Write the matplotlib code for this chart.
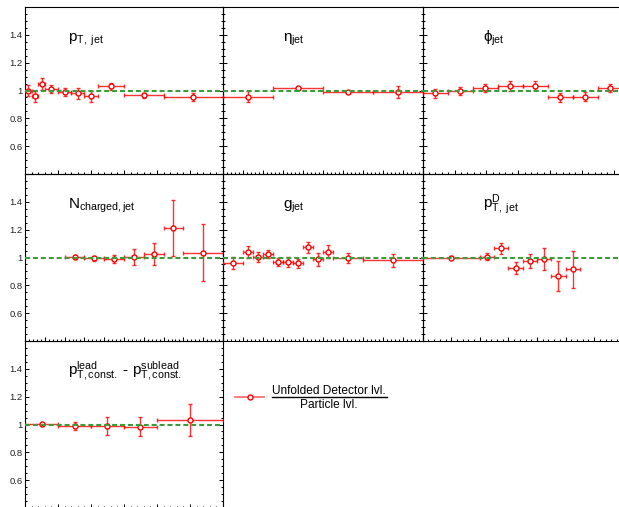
import numpy as np
import matplotlib
matplotlib.use('Agg')
import matplotlib.pyplot as plt
from matplotlib.ticker import FixedLocator, MultipleLocator, NullFormatter
from matplotlib.lines import Line2D

plt.rcParams['font.family'] = ['Liberation Sans', 'DejaVu Sans']
plt.rcParams['mathtext.fontset'] = 'custom'
plt.rcParams['mathtext.rm'] = 'Liberation Sans'
plt.rcParams['mathtext.it'] = 'Liberation Sans'
plt.rcParams['mathtext.bf'] = 'Liberation Sans:bold'
plt.rcParams['mathtext.fallback'] = 'stixsans'

# unfolded detector level / particle level, per observable
pt_edges = [0, 5, 10, 15, 25, 35, 45, 55, 75, 105, 150]
pt_ratio = [1.00, 0.96, 1.05, 1.01, 0.99, 0.98, 0.96, 1.03, 0.965, 0.955]
pt_err = [0.036, 0.04, 0.043, 0.03, 0.03, 0.04, 0.04, 0.025, 0.02, 0.03]

eta_edges = [-0.5, -0.25, 0.0, 0.25, 0.5]
eta_ratio = [0.955, 1.015, 0.99, 0.99]
eta_err = [0.04, 0.01, 0.008, 0.043]

phi_edges = [0, 0.785, 1.571, 2.356, 3.142, 3.927, 4.712, 5.498, 6.283]
phi_ratio = [0.98, 0.996, 1.02, 1.035, 1.035, 0.95, 0.955, 1.02]
phi_err = [0.034, 0.03, 0.03, 0.035, 0.03, 0.03, 0.034, 0.03]

nch_edges = [6, 9, 12, 15, 18, 21, 24, 30]
nch_ratio = [1.003, 0.993, 0.988, 1.003, 1.024, 1.21, 1.034]
nch_err = [0.015, 0.02, 0.03, 0.057, 0.08, 0.2, 0.206]

g_edges = [0, 0.02, 0.03, 0.04, 0.05, 0.06, 0.07, 0.08, 0.09, 0.10, 0.11, 0.14, 0.20]
g_ratio = [0.96, 1.038, 1.002, 1.024, 0.966, 0.971, 0.957, 1.074, 0.986, 1.041, 0.998, 0.98]
g_err = [0.045, 0.043, 0.036, 0.03, 0.03, 0.036, 0.034, 0.04, 0.045, 0.048, 0.036, 0.048]

ptd_edges = [0, 0.2, 0.25, 0.3, 0.35, 0.4, 0.45, 0.5, 0.55]
ptd_ratio = [0.998, 1.007, 1.065, 0.928, 0.974, 0.99, 0.868, 0.914]
ptd_err = [0.012, 0.024, 0.04, 0.043, 0.053, 0.08, 0.11, 0.13]

lead_edges = [0, 10, 20, 30, 40, 60]
lead_ratio = [1.002, 0.988, 0.99, 0.985, 1.03]
lead_err = [0.01, 0.03, 0.066, 0.068, 0.115]

y_ticks = [0.6, 0.8, 1.0, 1.2, 1.4]
y_tick_labels = ['0.6', '0.8', '1', '1.2', '1.4']

W, H = 619, 507
fig = plt.figure(figsize=(W / 100, H / 100), dpi=100)

col_left = [25, 223, 422.7]
col_width = [198, 200, 200]
row_top = [7, 174, 341]
row_h = 167


def make_axes(row, col):
    rect = [col_left[col] / W, 1 - (row_top[row] + row_h) / H,
            col_width[col] / W, row_h / H]
    return fig.add_axes(rect)


def draw_ratio(ax, edges, ratio, err, title, tx, xlim, xmajor, xminor, ylabels):
    edges = np.asarray(edges)
    centers = 0.5 * (edges[1:] + edges[:-1])
    half = 0.5 * np.diff(edges)
    ax.errorbar(centers, ratio, xerr=half, yerr=err, fmt='o', ms=3.6,
                mfc='white', mec='red', mew=1.0, ecolor=(1, 0, 0, 0.8),
                elinewidth=1.0, capsize=1.3, capthick=1.0, zorder=3,
                clip_on=True)
    ax.axhline(1.0, color='#3c9c3c', lw=1.5, ls=(0, (2.4, 1.4)), zorder=4)

    ax.set_xlim(*xlim)
    ax.set_ylim(0.4, 1.6)
    ax.xaxis.set_major_locator(MultipleLocator(xmajor))
    ax.xaxis.set_minor_locator(MultipleLocator(xminor))
    ax.xaxis.set_major_formatter(NullFormatter())
    ax.yaxis.set_major_locator(FixedLocator(y_ticks))
    ax.yaxis.set_minor_locator(MultipleLocator(0.05))
    if ylabels:
        ax.set_yticklabels(y_tick_labels)
    else:
        ax.yaxis.set_major_formatter(NullFormatter())
    ax.tick_params(which='both', direction='in', top=False, right=True,
                   width=0.75, colors='black', labelcolor='#222222',
                   labelsize=6.8, pad=1.8)
    ax.tick_params(which='major', length=3.2)
    ax.tick_params(which='minor', length=1.6)
    for s in ax.spines.values():
        s.set_linewidth(0.8)
    ax.set_facecolor('none')
    ax.text(tx, 0.795, title, transform=ax.transAxes, fontsize=11,
            ha='left', va='baseline', color='black')


panels = [
    (0, 0, pt_edges, pt_ratio, pt_err, r'$\mathregular{p_{T,\ jet}}$', 0.217, (0, 150), 25, 5),
    (0, 1, eta_edges, eta_ratio, eta_err, r'$\eta_{\mathregular{jet}}$', 0.30, (-0.5, 0.5), 0.1, 0.02),
    (0, 2, phi_edges, phi_ratio, phi_err, r'$\phi_{\mathregular{jet}}$', 0.30, (0, 6.283), 1, 0.2),
    (1, 0, nch_edges, nch_ratio, nch_err, r'$\mathregular{N_{charged,jet}}$', 0.217, (0, 30), 3, 0.6),
    (1, 1, g_edges, g_ratio, g_err, r'$\mathregular{g_{jet}}$', 0.30, (0, 0.2), 0.02, 0.004),
    (1, 2, ptd_edges, ptd_ratio, ptd_err, r'$\mathregular{p^{D}_{T,\ jet}}$', 0.30, (0, 0.7), 0.1, 0.02),
    (2, 0, lead_edges, lead_ratio, lead_err,
     r'$\mathregular{p^{lead}_{T,const.}}$ - $\mathregular{p^{sublead}_{T,const.}}$', 0.217, (0, 60), 10, 2),
]

for row, col, edges, ratio, err, title, tx, xlim, xmaj, xmin in panels:
    ax = make_axes(row, col)
    draw_ratio(ax, edges, ratio, err, title, tx, xlim, xmaj, xmin, col == 0)

# legend: marker entry plus fraction label
ly = 1 - 396.7 / H
fig.add_artist(Line2D([235 / W, 264 / W], [ly, ly], transform=fig.transFigure,
                      color=(1, 0, 0, 0.55), lw=1.3))
fig.add_artist(Line2D([250 / W], [ly], transform=fig.transFigure, marker='o',
                      ms=3.6, mfc='white', mec='red', mew=1.0, ls='none'))
fig.add_artist(Line2D([271.7 / W, 386.7 / W], [ly, ly], transform=fig.transFigure,
                      color='black', lw=1.0))
fig.text(329 / W, 1 - 394 / H, 'Unfolded Detector lvl.', ha='center',
         va='baseline', fontsize=8.6)
fig.text(329 / W, 1 - 407.5 / H, 'Particle lvl.', ha='center',
         va='baseline', fontsize=8.6)

fig.savefig('out.png', dpi=100, facecolor='white')
